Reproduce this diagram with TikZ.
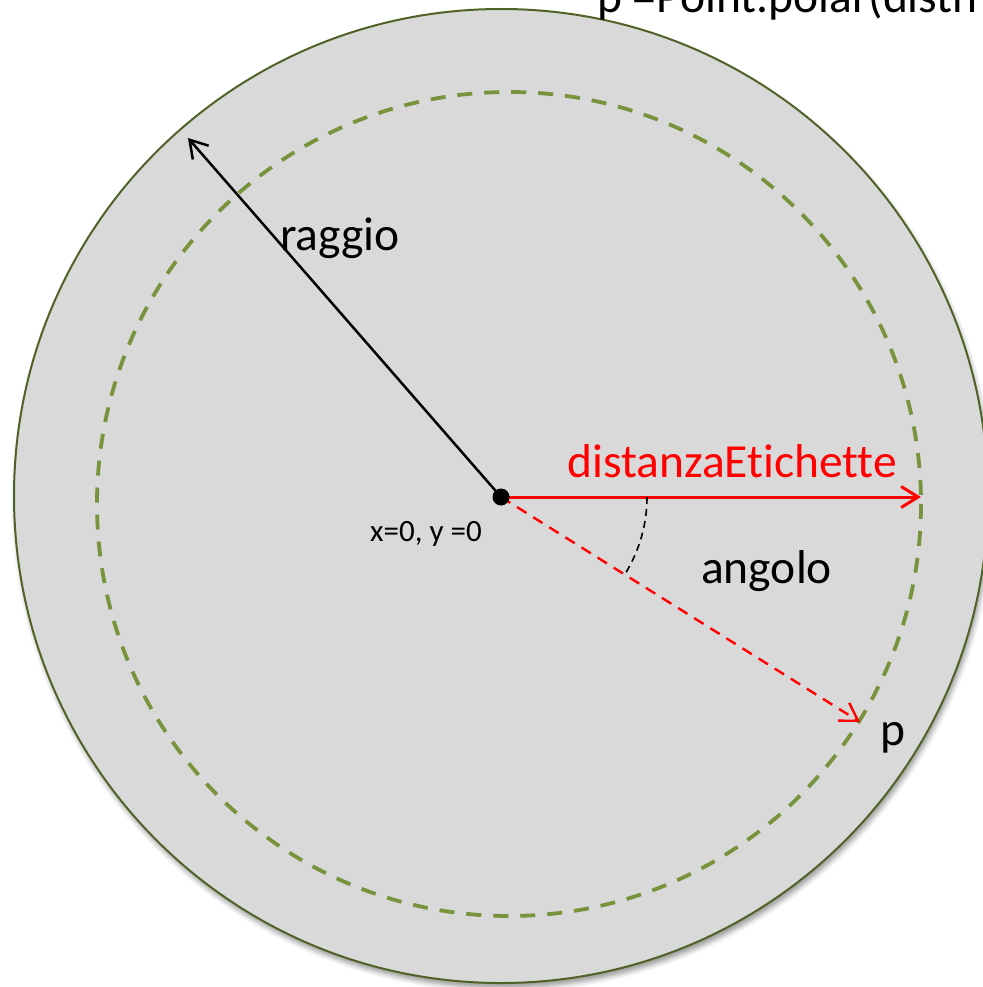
\documentclass[tikz,border=0pt]{standalone}
\usepackage{fontspec}
\setmainfont[Ligatures=NoCommon]{Carlito}
\usetikzlibrary{arrows.meta,shadows.blur}
\definecolor{olivedark}{HTML}{4F6228}
\definecolor{olivelight}{HTML}{77933C}
\definecolor{circfill}{HTML}{D9D9D9}
\begin{document}
\begin{tikzpicture}[x=1pt,y=-1pt,
  bigtxt/.style={font=\fontsize{47.5}{57}\selectfont, inner sep=0pt, anchor=base west},
  smalltxt/.style={font=\fontsize{31}{37}\selectfont, inner sep=0pt, anchor=base west},
  barbtip/.style={-{Straight Barb[length=17pt,width=21pt]}},
]
\useasboundingbox (0,0) rectangle (982,987);
% outer disc
\draw[olivedark, line width=2pt, fill=circfill,
  blur shadow={shadow xshift=2pt, shadow yshift=-5pt, shadow blur radius=5pt, shadow opacity=40}]
  (501,496) circle[radius=487];
% dashed circle
\draw[olivelight, line width=3.8pt, dash pattern=on 15pt off 12pt] (509,504) circle[radius=412];
% points
\coordinate (c) at (501,497);
\coordinate (r) at (188,138);
\coordinate (d) at (921,497);
\coordinate (p) at (860,722);
% connectors
\draw[barbtip, line width=2.5pt, black] (c) -- (r);
\draw[barbtip, line width=3pt, red] (c) -- (d);
\draw[barbtip, line width=2.4pt, red, dash pattern=on 11pt off 8pt] (c) -- (p);
\draw[black, line width=1.6pt, dash pattern=on 7pt off 5pt] (c) ++(146,0) arc[start angle=0, end angle=31.7, radius=146];
\fill[black] (c) circle[radius=8.5];
% labels
\node[bigtxt] (traggio) at (280,250) {raggio};
\node[bigtxt, text=red] (tdist) at (567,477) {distanzaEtichette};
\node[bigtxt] (tang) at (701,583) {angolo};
\node[bigtxt] (tp) at (880,745) {p};
\node[smalltxt] (torig) at (370,541) {x=0, y =0};
\node[bigtxt] (ttop) at (597,13) {p =Point.polar(distn};
\end{tikzpicture}
\end{document}
